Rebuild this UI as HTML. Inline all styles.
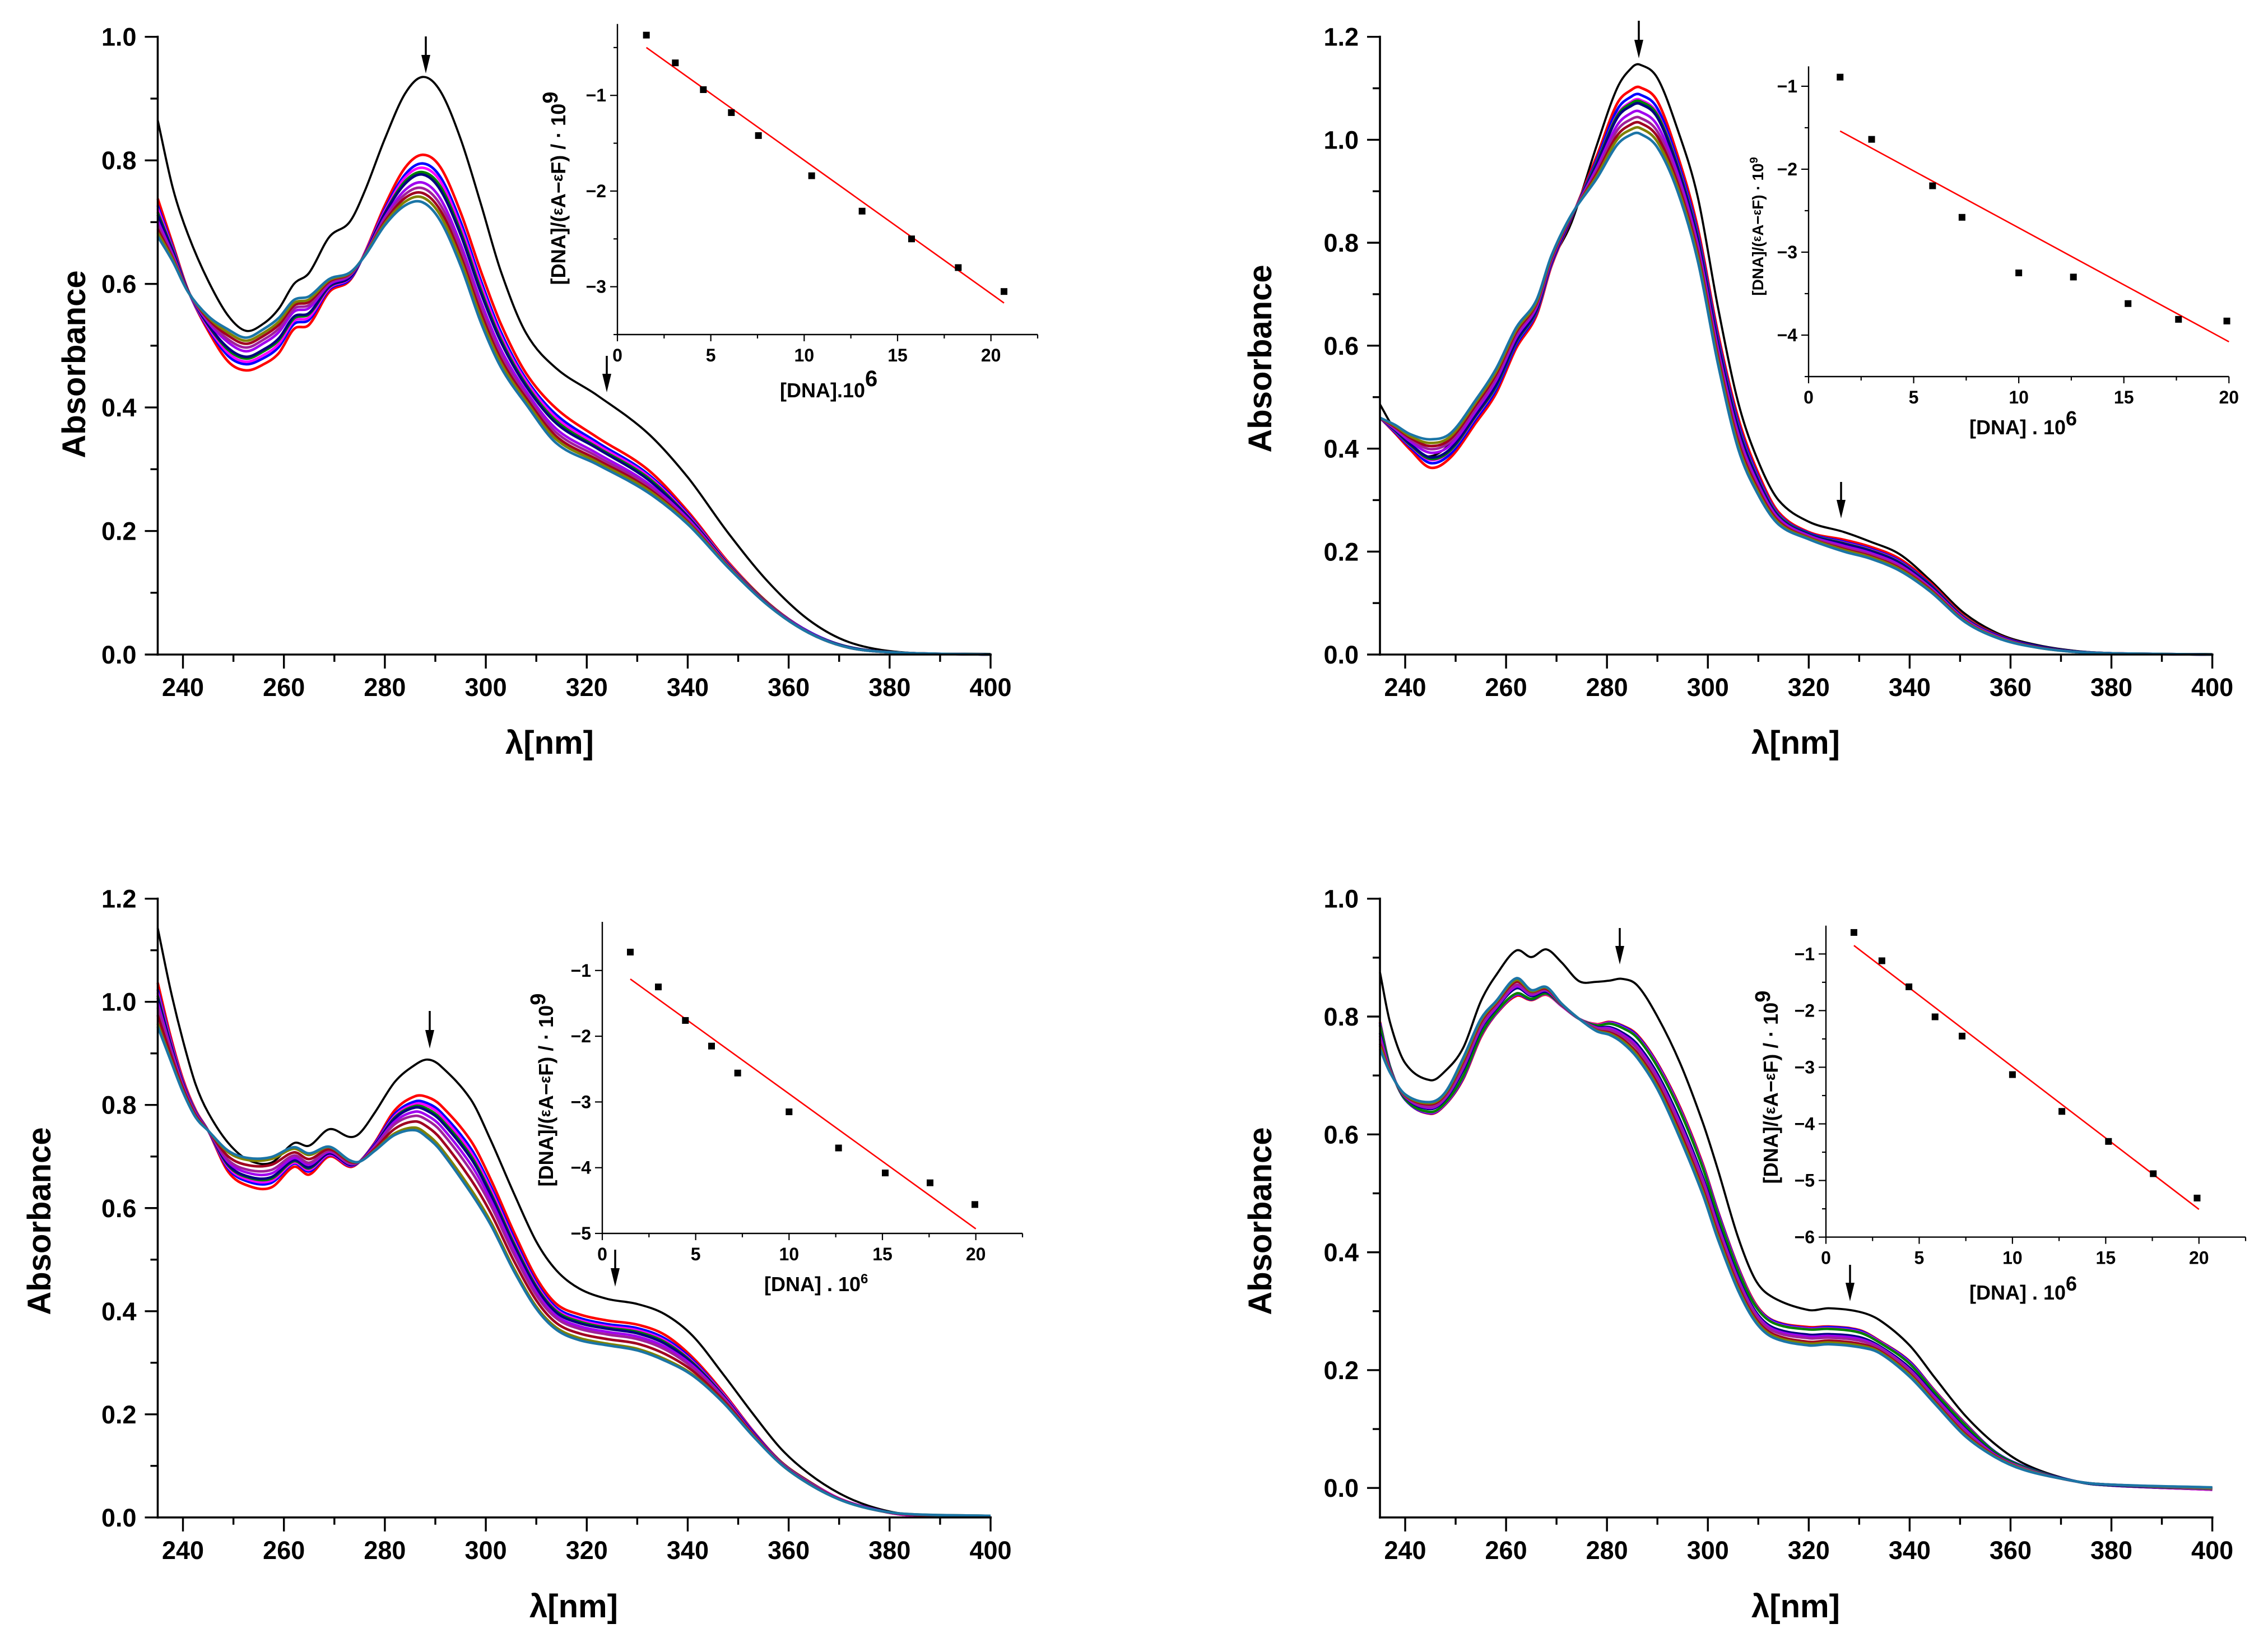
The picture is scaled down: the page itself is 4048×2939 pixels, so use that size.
<!DOCTYPE html>
<html lang="en">
<head>
<meta charset="utf-8">
<title>UV-Vis absorbance titration panels</title>
<style>
html,body{margin:0;padding:0;background:#fff;}
svg{display:block;}
text{font-family:"Liberation Sans",sans-serif;font-weight:bold;fill:#000;}
</style>
</head>
<body>
<svg id="figure" xmlns="http://www.w3.org/2000/svg" width="4048" height="2939" viewBox="0 0 4048 2939">
<rect x="0" y="0" width="4048" height="2939" fill="#fff"/>
<g id="plots"></g>

<text transform="translate(152,650) rotate(-90)" text-anchor="middle" font-size="58">Absorbance</text>
<text transform="translate(2269,640) rotate(-90)" text-anchor="middle" font-size="58">Absorbance</text>
<text transform="translate(90,2179) rotate(-90)" text-anchor="middle" font-size="58">Absorbance</text>
<text transform="translate(2269,2179) rotate(-90)" text-anchor="middle" font-size="58">Absorbance</text>

<text x="981" y="1345" text-anchor="middle" font-size="58">λ[nm]</text>
<text x="3205" y="1345" text-anchor="middle" font-size="58">λ[nm]</text>
<text x="1024" y="2886" text-anchor="middle" font-size="58">λ[nm]</text>
<text x="3205" y="2886" text-anchor="middle" font-size="58">λ[nm]</text>

<text transform="translate(1009,336) rotate(-90)" text-anchor="middle" font-size="36">[DNA]/(<tspan font-size="28" dy="-5">ε</tspan><tspan dy="5">A</tspan>−<tspan font-size="28" dy="-5">ε</tspan><tspan dy="5">F</tspan>)  /  ·  10<tspan font-size="38" dy="-14">9</tspan></text>
<text transform="translate(3147,404) rotate(-90)" text-anchor="middle" font-size="28">[DNA]/(<tspan font-size="22" dy="-4">ε</tspan><tspan dy="4">A</tspan>−<tspan font-size="22" dy="-4">ε</tspan><tspan dy="4">F</tspan>) · 10<tspan font-size="20" dy="-10">9</tspan></text>
<text transform="translate(987,1945) rotate(-90)" text-anchor="middle" font-size="36">[DNA]/(<tspan font-size="28" dy="-5">ε</tspan><tspan dy="5">A</tspan>−<tspan font-size="28" dy="-5">ε</tspan><tspan dy="5">F</tspan>)  /  ·  10<tspan font-size="38" dy="-14">9</tspan></text>
<text transform="translate(3173,1940) rotate(-90)" text-anchor="middle" font-size="36">[DNA]/(<tspan font-size="28" dy="-5">ε</tspan><tspan dy="5">A</tspan>−<tspan font-size="28" dy="-5">ε</tspan><tspan dy="5">F</tspan>)  /  ·  10<tspan font-size="38" dy="-14">9</tspan></text>

<text x="1392" y="709" font-size="36">[DNA].10<tspan font-size="40" dy="-20">6</tspan></text>
<text x="3515" y="775" font-size="36" xml:space="preserve">[DNA] . 10<tspan font-size="36" dy="-16">6</tspan></text>
<text x="1364" y="2304" font-size="36" xml:space="preserve">[DNA] . 10<tspan font-size="24" dy="-14">6</tspan></text>
<text x="3515" y="2319" font-size="36" xml:space="preserve">[DNA] . 10<tspan font-size="36" dy="-16">6</tspan></text>

<g><line x1="760" y1="65" x2="760" y2="105" stroke="#000" stroke-width="3.5"/><polygon points="752,98 768,98 760,131" fill="#000"/></g>
<g><line x1="1083" y1="635" x2="1083" y2="675" stroke="#000" stroke-width="3.5"/><polygon points="1075,667 1091,667 1083,700" fill="#000"/></g>
<g><line x1="2925" y1="37" x2="2925" y2="78" stroke="#000" stroke-width="3.5"/><polygon points="2917,71 2933,71 2925,104" fill="#000"/></g>
<g><line x1="3286" y1="860" x2="3286" y2="900" stroke="#000" stroke-width="3.5"/><polygon points="3278,892 3294,892 3286,925" fill="#000"/></g>
<g><line x1="767" y1="1804" x2="767" y2="1845" stroke="#000" stroke-width="3.5"/><polygon points="759,1838 775,1838 767,1871" fill="#000"/></g>
<g><line x1="1098" y1="2230" x2="1098" y2="2270" stroke="#000" stroke-width="3.5"/><polygon points="1090,2263 1106,2263 1098,2296" fill="#000"/></g>
<g><line x1="2891" y1="1656" x2="2891" y2="1696" stroke="#000" stroke-width="3.5"/><polygon points="2883,1688 2899,1688 2891,1721" fill="#000"/></g>
<g><line x1="3302" y1="2257" x2="3302" y2="2297" stroke="#000" stroke-width="3.5"/><polygon points="3294,2289 3310,2289 3302,2322" fill="#000"/></g>
</svg>

<script>
// ---------- chart data ----------
const seriesNames = ['black','red','blue','magenta','green','navy','violet','purple','darkred','olive','teal'];
const seriesColors = ['#000000','#ff0000','#0000ff','#ff00ff','#008000','#000080','#a000f0','#a0209a','#a00020','#808000','#1b75a6'];

const xTickLabels = [240,260,280,300,320,340,360,380,400];
const xMinorTicks = [250,270,290,310,330,350,370,390];
const yTicks10 = ['0.0','0.2','0.4','0.6','0.8','1.0'];
const yMinor10 = [0.1,0.3,0.5,0.7,0.9];
const yTicks12 = ['0.0','0.2','0.4','0.6','0.8','1.0','1.2'];
const yMinor12 = [0.1,0.3,0.5,0.7,0.9,1.1];

// Panel A
const wlA = [235,238,241,245,249,252.5,256,259,262,265,269,273,276,280,284,287.5,291,295,299,303,308,314,322,332,340,348,356,364,372,382,400];
const blackA = [.865,.755,.680,.605,.548,.524,.536,.560,.600,.618,.676,.700,.750,.835,.908,.935,.912,.835,.730,.620,.520,.463,.420,.359,.287,.197,.117,.056,.020,.004,.001];
const redA = [.738,.664,.590,.524,.474,.460,.470,.488,.527,.534,.587,.605,.650,.727,.788,.809,.789,.716,.621,.535,.455,.398,.352,.300,.232,.150,.083,.037,.012,.003,0];
const blueA = [.727,.659,.589,.528,.483,.470,.480,.498,.535,.542,.591,.607,.649,.721,.777,.795,.773,.701,.606,.522,.446,.388,.344,.293,.228,.148,.082,.037,.012,.003,0];
const magentaA = [.722,.656,.589,.530,.488,.474,.485,.503,.540,.546,.593,.609,.649,.718,.772,.788,.766,.693,.599,.516,.442,.383,.340,.290,.226,.148,.082,.036,.012,.003,0];
const greenA = [.716,.654,.589,.533,.493,.479,.491,.509,.544,.551,.595,.610,.648,.715,.766,.781,.758,.685,.591,.510,.437,.378,.336,.287,.224,.147,.082,.036,.012,.003,0];
const navyA = [.712,.652,.589,.534,.496,.482,.494,.512,.547,.553,.596,.610,.648,.714,.762,.777,.752,.680,.586,.506,.434,.374,.334,.284,.223,.146,.081,.036,.012,.003,0];
const violetA = [.702,.647,.588,.538,.505,.491,.504,.522,.555,.561,.599,.613,.647,.708,.752,.764,.738,.665,.572,.494,.426,.365,.326,.278,.220,.145,.081,.036,.011,.003,0];
const purpleA = [.695,.644,.588,.541,.510,.497,.510,.528,.560,.566,.602,.614,.647,.705,.745,.755,.728,.656,.563,.486,.420,.359,.321,.274,.217,.144,.080,.036,.011,.003,0];
const darkredA = [.689,.641,.588,.543,.516,.503,.516,.534,.565,.571,.604,.616,.646,.701,.739,.747,.719,.646,.554,.478,.415,.353,.316,.270,.215,.143,.080,.035,.011,.003,0];
const oliveA = [.683,.639,.587,.546,.521,.508,.521,.539,.569,.575,.606,.617,.646,.698,.733,.740,.711,.639,.546,.472,.410,.348,.312,.267,.213,.142,.079,.035,.011,.003,0];
const tealA = [.677,.636,.587,.548,.526,.513,.527,.545,.574,.580,.608,.618,.645,.695,.727,.732,.702,.630,.538,.465,.405,.342,.308,.263,.211,.141,.079,.035,.011,.003,0];

// Panel B
const wlB = [235,238,241,245,249,254,258,262,266,269,273,278,282,285,286.5,290,294,298,302,306,310,314,320,327,332,338,344,351,358,365,373,382,400];
const blackB = [.486,.435,.400,.385,.410,.470,.530,.620,.680,.762,.840,.990,1.100,1.141,1.146,1.120,1.020,.889,.675,.490,.375,.300,.258,.238,.220,.195,.145,.079,.039,.019,.007,.002,.001];
const redB = [.460,.430,.398,.363,.383,.450,.507,.595,.658,.755,.848,.969,1.070,1.098,1.102,1.075,.970,.829,.625,.460,.352,.277,.238,.223,.210,.186,.140,.073,.036,.017,.006,.002,0];
const blueB = [.460,.432,.403,.372,.390,.457,.514,.601,.663,.758,.849,.962,1.058,1.085,1.088,1.061,.959,.819,.616,.451,.345,.273,.236,.219,.206,.182,.137,.071,.035,.017,.006,.002,0];
const magentaB = [.460,.434,.406,.378,.396,.462,.520,.606,.666,.760,.850,.957,1.048,1.075,1.078,1.051,.951,.812,.609,.444,.341,.271,.234,.217,.204,.180,.135,.070,.034,.016,.006,.002,0];
const greenB = [.460,.435,.407,.380,.397,.464,.521,.607,.667,.761,.850,.956,1.046,1.072,1.075,1.048,.949,.810,.607,.442,.339,.270,.234,.216,.203,.179,.135,.070,.034,.016,.006,.002,0];
const navyB = [.460,.436,.409,.383,.400,.466,.524,.609,.669,.762,.850,.953,1.042,1.067,1.070,1.043,.945,.806,.604,.439,.337,.268,.233,.215,.202,.178,.134,.069,.034,.016,.006,.002,0];
const violetB = [.460,.438,.414,.392,.407,.473,.532,.616,.674,.765,.852,.946,1.028,1.053,1.055,1.028,.934,.796,.594,.429,.330,.265,.231,.211,.198,.174,.131,.068,.033,.015,.005,.002,0];
const purpleB = [.460,.440,.418,.399,.414,.479,.538,.621,.678,.768,.853,.940,1.018,1.041,1.043,1.016,.924,.787,.586,.421,.324,.261,.229,.208,.195,.171,.129,.066,.032,.015,.005,.002,0];
const darkredB = [.460,.442,.421,.405,.419,.485,.544,.626,.681,.770,.853,.935,1.008,1.031,1.033,1.006,.916,.780,.579,.414,.320,.259,.227,.205,.192,.168,.127,.065,.031,.015,.005,.002,0];
const oliveB = [.460,.444,.424,.411,.424,.490,.549,.630,.684,.773,.854,.930,1.000,1.021,1.023,.996,.908,.773,.572,.407,.315,.256,.226,.203,.190,.166,.125,.064,.031,.014,.005,.002,0];
const tealB = [.460,.446,.428,.418,.430,.495,.555,.635,.688,.775,.855,.925,.990,1.011,1.012,.985,.900,.765,.565,.400,.310,.253,.224,.200,.187,.163,.123,.063,.030,.014,.005,.002,0];

// Panel C
const wlC = [235,237.5,240,242.5,245,249,253,257.5,262,265,269,273,275,278,282,286,288.5,291,297,301,305.5,310,314,318.5,324,330,335.5,341,347,353,358.5,364,370,376,383,400];
const blackC = [1.143,1.025,.925,.840,.785,.726,.693,.688,.726,.721,.753,.738,.745,.785,.845,.878,.888,.876,.811,.731,.630,.535,.479,.444,.424,.414,.394,.352,.278,.200,.133,.085,.047,.022,.007,.002];
const redC = [1.037,.935,.850,.790,.750,.670,.643,.640,.680,.665,.700,.680,.690,.727,.790,.817,.815,.800,.731,.655,.555,.465,.414,.394,.382,.374,.354,.310,.243,.167,.108,.070,.037,.018,.005,.001];
const blueC = [1.024,.928,.846,.788,.750,.676,.651,.649,.686,.671,.703,.682,.690,.725,.783,.807,.803,.787,.716,.642,.544,.456,.407,.387,.375,.367,.347,.305,.240,.166,.107,.069,.037,.018,.005,.001];
const magentaC = [1.018,.925,.845,.787,.750,.679,.655,.653,.688,.674,.704,.683,.690,.723,.779,.802,.798,.781,.709,.636,.538,.452,.403,.383,.371,.363,.343,.302,.239,.165,.107,.069,.037,.018,.005,.001];
const greenC = [1.012,.921,.843,.786,.750,.682,.659,.657,.691,.677,.706,.684,.690,.722,.776,.798,.792,.774,.702,.629,.533,.448,.400,.380,.368,.360,.340,.300,.237,.164,.107,.069,.036,.018,.006,.002];
const navyC = [1.008,.919,.842,.785,.750,.684,.661,.660,.693,.679,.706,.684,.690,.722,.774,.795,.788,.770,.697,.625,.529,.445,.397,.377,.366,.357,.337,.298,.236,.164,.106,.068,.036,.018,.006,.002];
const violetC = [.998,.913,.839,.784,.750,.689,.668,.667,.697,.684,.709,.686,.690,.720,.768,.787,.779,.760,.685,.615,.520,.437,.391,.371,.360,.351,.331,.294,.234,.162,.106,.068,.036,.018,.006,.002];
const purpleC = [.989,.908,.836,.782,.750,.693,.674,.674,.702,.688,.711,.687,.690,.718,.763,.779,.770,.750,.673,.605,.512,.431,.386,.366,.355,.346,.326,.290,.232,.161,.105,.067,.036,.017,.006,.002];
const darkredC = [.974,.900,.832,.780,.750,.700,.683,.684,.708,.695,.714,.690,.690,.715,.754,.768,.757,.735,.656,.590,.499,.421,.377,.357,.346,.337,.317,.284,.228,.160,.104,.066,.036,.017,.006,.002];
const oliveC = [.958,.891,.827,.777,.750,.708,.693,.695,.715,.703,.718,.692,.690,.712,.745,.756,.742,.718,.637,.573,.484,.409,.368,.348,.337,.327,.307,.277,.224,.158,.103,.065,.035,.017,.007,.003];
const tealC = [.952,.888,.825,.776,.750,.711,.697,.699,.718,.706,.719,.693,.690,.711,.742,.751,.736,.712,.630,.567,.479,.405,.364,.344,.334,.324,.304,.275,.223,.157,.103,.065,.035,.017,.007,.003];

// Panel D
const wlD = [235,237,240,245,248,251.5,255,258,262,265,268,271,274.5,278,280.5,283,286,290,294.5,299,302,306,309.5,313,320,324,330,334,340,345,351,357,362.5,370,377,400];
const blackD = [.875,.790,.721,.692,.708,.747,.826,.870,.912,.901,.914,.892,.860,.859,.861,.864,.853,.800,.721,.620,.540,.425,.352,.323,.302,.305,.299,.285,.242,.187,.123,.074,.042,.018,.007,0];
const redD = [.791,.715,.659,.635,.651,.694,.765,.804,.835,.828,.837,.818,.796,.787,.791,.785,.769,.721,.646,.550,.470,.375,.312,.284,.273,.274,.268,.250,.215,.165,.110,.061,.037,.017,.006,-.003];
const blueD = [.789,.715,.659,.636,.652,.696,.767,.805,.837,.829,.838,.818,.796,.786,.790,.784,.767,.719,.643,.547,.468,.373,.310,.283,.271,.273,.267,.249,.214,.164,.109,.061,.037,.017,.006,-.003];
const magentaD = [.786,.714,.660,.637,.653,.698,.768,.806,.838,.830,.838,.818,.796,.786,.789,.782,.765,.717,.641,.545,.465,.371,.309,.281,.270,.271,.265,.248,.212,.163,.108,.060,.036,.017,.006,-.003];
const greenD = [.785,.714,.660,.638,.654,.699,.769,.807,.839,.830,.839,.819,.796,.785,.788,.781,.764,.715,.639,.543,.463,.369,.308,.280,.269,.270,.264,.247,.211,.162,.107,.060,.036,.017,.006,-.002];
const navyD = [.772,.711,.663,.643,.660,.709,.778,.813,.848,.835,.842,.820,.796,.782,.782,.773,.753,.703,.624,.528,.450,.358,.299,.272,.260,.261,.256,.241,.204,.156,.101,.057,.034,.017,.006,-.001];
const violetD = [.767,.710,.664,.645,.662,.713,.781,.815,.851,.837,.844,.820,.796,.781,.780,.770,.749,.698,.618,.523,.445,.354,.296,.269,.257,.258,.253,.239,.201,.154,.099,.056,.034,.016,.007,-.001];
const purpleD = [.762,.709,.665,.647,.664,.716,.784,.818,.854,.839,.845,.820,.796,.780,.777,.767,.745,.694,.613,.518,.440,.350,.293,.266,.254,.255,.250,.237,.199,.151,.096,.055,.033,.016,.007,-.001];
const darkredD = [.754,.707,.666,.651,.668,.723,.790,.822,.859,.842,.847,.821,.796,.777,.773,.762,.738,.686,.604,.508,.432,.343,.287,.261,.248,.250,.245,.233,.194,.147,.092,.054,.032,.016,.007,0];
const oliveD = [.750,.706,.667,.653,.670,.726,.793,.824,.862,.843,.849,.822,.796,.776,.771,.759,.734,.681,.598,.503,.427,.339,.284,.258,.245,.247,.242,.231,.192,.145,.090,.053,.032,.016,.007,0];
const tealD = [.745,.705,.668,.655,.672,.730,.796,.826,.865,.845,.850,.822,.796,.775,.769,.756,.730,.677,.593,.498,.422,.335,.281,.255,.242,.244,.239,.229,.189,.143,.088,.052,.031,.016,.007,.001];

// Insets
const insetXTicks = ['0','5','10','15','20'];
const insetXMinor = [2.5,7.5,12.5,17.5,22.5];
const insetXMinorB = [2.5,7.5,12.5,17.5];

const pointsXA = [1.55,3.1,4.6,6.1,7.55,10.4,13.1,15.75,18.25,20.7];
const pointsYA = [-.37,-.66,-.94,-1.18,-1.42,-1.84,-2.21,-2.50,-2.80,-3.05];
const fitXA = [1.55,20.7];
const fitYA = [-.50,-3.17];
const insetYTicksA = [-1,-2,-3];
const insetYMinorA = [-.5,-1.5,-2.5,-3.5];

const pointsXB = [1.5,3,5.9,7.3,10,12.6,15.2,17.6,19.9];
const pointsYB = [-.89,-1.64,-2.2,-2.58,-3.25,-3.3,-3.62,-3.81,-3.83];
const fitXB = [1.5,20];
const fitYB = [-1.54,-4.08];
const insetYTicksB = [-1,-2,-3,-4];
const insetYMinorB = [-1.5,-2.5,-3.5,-4.5];

const pointsXC = [1.5,3,4.45,5.85,7.25,10,12.65,15.15,17.55,19.95];
const pointsYC = [-.72,-1.25,-1.76,-2.15,-2.56,-3.15,-3.7,-4.08,-4.23,-4.56];
const fitXC = [1.5,20];
const fitYC = [-1.13,-4.93];
const insetYTicksC = [-1,-2,-3,-4,-5];
const insetYMinorC = [];

const pointsXD = [1.5,3,4.45,5.85,7.3,10,12.65,15.15,17.55,19.9];
const pointsYD = [-.62,-1.12,-1.58,-2.11,-2.45,-3.13,-3.78,-4.31,-4.88,-5.31];
const fitXD = [1.5,20];
const fitYD = [-.85,-5.51];
const insetYTicksD = [-1,-2,-3,-4,-5,-6];
const insetYMinorD = [-1.5,-2.5,-3.5,-4.5,-5.5];

// ---------- layout ----------
const panels = [
  {id:'a', wl:wlA, series:[blackA,redA,blueA,magentaA,greenA,navyA,violetA,purpleA,darkredA,oliveA,tealA], yTicks:yTicks10, yMinor:yMinor10,
   x0:281.5,x1:1768,yT:65.7,yB:1168,yMax:1,yMin:0,
   inset:{px:pointsXA,py:pointsYA,fx:fitXA,fy:fitYA,yt:insetYTicksA,ym:insetYMinorA,xm:insetXMinor,x0:1102,x1:1852,xMax:22.5,yT:42.7,yB:597,yMax:-.253,yMin:-3.5}},
  {id:'b', wl:wlB, series:[blackB,redB,blueB,magentaB,greenB,navyB,violetB,purpleB,darkredB,oliveB,tealB], yTicks:yTicks12, yMinor:yMinor12,
   x0:2463,x1:3948.6,yT:65.7,yB:1168,yMax:1.2,yMin:0,
   inset:{px:pointsXB,py:pointsYB,fx:fitXB,fy:fitYB,yt:insetYTicksB,ym:insetYMinorB,xm:insetXMinorB,x0:3228,x1:3978.3,xMax:20,yT:118.4,yB:672,yMax:-.76,yMin:-4.5}},
  {id:'c', wl:wlC, series:[blackC,redC,blueC,magentaC,greenC,navyC,violetC,purpleC,darkredC,oliveC,tealC], yTicks:yTicks12, yMinor:yMinor12,
   x0:281.5,x1:1768,yT:1603.7,yB:2707.8,yMax:1.2,yMin:0,
   inset:{px:pointsXC,py:pointsYC,fx:fitXC,fy:fitYC,yt:insetYTicksC,ym:insetYMinorC,xm:insetXMinor,x0:1075,x1:1825,xMax:22.5,yT:1645,yB:2201,yMax:-.26,yMin:-5}},
  {id:'d', wl:wlD, series:[blackD,redD,blueD,magentaD,greenD,navyD,violetD,purpleD,darkredD,oliveD,tealD], yTicks:yTicks10, yMinor:yMinor10,
   x0:2463,x1:3948.6,yT:1603.7,yB:2707.8,yMax:1,yMin:-.05,
   inset:{px:pointsXD,py:pointsYD,fx:fitXD,fy:fitYD,yt:insetYTicksD,ym:insetYMinorD,xm:insetXMinor,x0:3259,x1:4008,xMax:22.5,yT:1651.8,yB:2207.6,yMax:-.5,yMin:-6}}
];

const SVGNS = 'http://www.w3.org/2000/svg';
const root = document.getElementById('plots');

function make(parent, tag, attrs, txt) {
  const node = document.createElementNS(SVGNS, tag);
  for (const k in attrs) node.setAttribute(k, attrs[k]);
  if (txt !== undefined) node.textContent = txt;
  parent.appendChild(node);
  return node;
}

function linear(d0, d1, r0, r1) {
  return v => r0 + (v - d0) * (r1 - r0) / (d1 - d0);
}

function splinePath(xs, ys) {
  const slope = [];
  for (let i = 0; i < xs.length; i++) {
    const a = Math.max(0, i - 1), b = Math.min(xs.length - 1, i + 1);
    slope.push((ys[b] - ys[a]) / (xs[b] - xs[a]));
  }
  let d = 'M' + xs[0].toFixed(1) + ' ' + ys[0].toFixed(1);
  for (let i = 1; i < xs.length; i++) {
    const h = (xs[i] - xs[i - 1]) / 3;
    d += 'C' + (xs[i - 1] + h).toFixed(1) + ' ' + (ys[i - 1] + slope[i - 1] * h).toFixed(1) + ' ' +
         (xs[i] - h).toFixed(1) + ' ' + (ys[i] - slope[i] * h).toFixed(1) + ' ' +
         xs[i].toFixed(1) + ' ' + ys[i].toFixed(1);
  }
  return d;
}

function drawMain(p) {
  const sx = linear(235, 400, p.x0, p.x1);
  const sy = linear(p.yMin, p.yMax, p.yB, p.yT);
  const g = make(root, 'g', {});
  
  

  p.series.forEach((vals, i) => {
    const xs = p.wl.map(sx);
    const ys = vals.map(sy);
    const path = make(g, 'path', {d: splinePath(xs, ys), fill: 'none', stroke: seriesColors[i], 'stroke-width': i === 0 ? 3.8 : 4.6, 'stroke-linejoin': 'round'});
    
    
  });

  const yAxis = make(g, 'line', {x1: p.x0, x2: p.x0, y1: p.yT - 2, y2: p.yB + 2, stroke: '#000', 'stroke-width': 3.6});
  
  
  const xAxis = make(g, 'line', {x1: p.x0 - 2, x2: p.x1 + 2, y1: p.yB, y2: p.yB, stroke: '#000', 'stroke-width': 3.6});
  
  

  xTickLabels.forEach(v => {
    const tick = make(g, 'line', {x1: sx(v), x2: sx(v), y1: p.yB, y2: p.yB + 25, stroke: '#000', 'stroke-width': 3.4});
    
    
    const label = make(g, 'text', {x: sx(v), y: p.yB + 74, 'text-anchor': 'middle', 'font-size': 45}, String(v));
    
    
  });
  xMinorTicks.forEach(v => {
    const tick = make(g, 'line', {x1: sx(v), x2: sx(v), y1: p.yB, y2: p.yB + 13, stroke: '#000', 'stroke-width': 3.4});
    
    
  });
  p.yTicks.forEach(t => {
    const y = sy(parseFloat(t));
    const tick = make(g, 'line', {x1: p.x0 - 23, x2: p.x0, y1: y, y2: y, stroke: '#000', 'stroke-width': 3.4});
    
    
    const label = make(g, 'text', {x: p.x0 - 38, y: y + 16, 'text-anchor': 'end', 'font-size': 45}, t);
    
    
  });
  p.yMinor.forEach(v => {
    const y = sy(v);
    const tick = make(g, 'line', {x1: p.x0 - 13, x2: p.x0, y1: y, y2: y, stroke: '#000', 'stroke-width': 3.4});
    
    
  });
}

function drawInset(p) {
  const q = p.inset;
  const sx = linear(0, q.xMax, q.x0, q.x1);
  const sy = linear(q.yMin, q.yMax, q.yB, q.yT);
  const g = make(root, 'g', {});
  
  

  const yAxis = make(g, 'line', {x1: q.x0, x2: q.x0, y1: q.yT, y2: q.yB + 1, stroke: '#000', 'stroke-width': 2.4});
  
  
  const xAxis = make(g, 'line', {x1: q.x0 - 1, x2: q.x1, y1: q.yB, y2: q.yB, stroke: '#000', 'stroke-width': 2.4});
  
  

  insetXTicks.forEach(t => {
    const x = sx(parseFloat(t));
    const tick = make(g, 'line', {x1: x, x2: x, y1: q.yB, y2: q.yB + 12, stroke: '#000', 'stroke-width': 2.2});
    
    
    const label = make(g, 'text', {x: x, y: q.yB + 48, 'text-anchor': 'middle', 'font-size': 32}, t);
    
    
  });
  q.xm.forEach(v => {
    const tick = make(g, 'line', {x1: sx(v), x2: sx(v), y1: q.yB, y2: q.yB + 7, stroke: '#000', 'stroke-width': 2.2});
    
    
  });
  q.yt.forEach(v => {
    const tick = make(g, 'line', {x1: q.x0 - 13, x2: q.x0, y1: sy(v), y2: sy(v), stroke: '#000', 'stroke-width': 2.2});
    
    
    const label = make(g, 'text', {x: q.x0 - 20, y: sy(v) + 11, 'text-anchor': 'end', 'font-size': 32}, '−' + Math.abs(v));
    
    
  });
  q.ym.forEach(v => {
    const tick = make(g, 'line', {x1: q.x0 - 7, x2: q.x0, y1: sy(v), y2: sy(v), stroke: '#000', 'stroke-width': 2.2});
    
    
  });

  const fit = make(g, 'line', {x1: sx(q.fx[0]), y1: sy(q.fy[0]), x2: sx(q.fx[1]), y2: sy(q.fy[1]), stroke: '#ff0000', 'stroke-width': 2.6});
  
  

  q.px.forEach((v, i) => {
    const pt = make(g, 'rect', {x: sx(v) - 6, y: sy(q.py[i]) - 6, width: 12, height: 12, fill: '#000'});
    
    
  });
}

panels.forEach(p => { drawMain(p); drawInset(p); });
</script>
</body>
</html>
